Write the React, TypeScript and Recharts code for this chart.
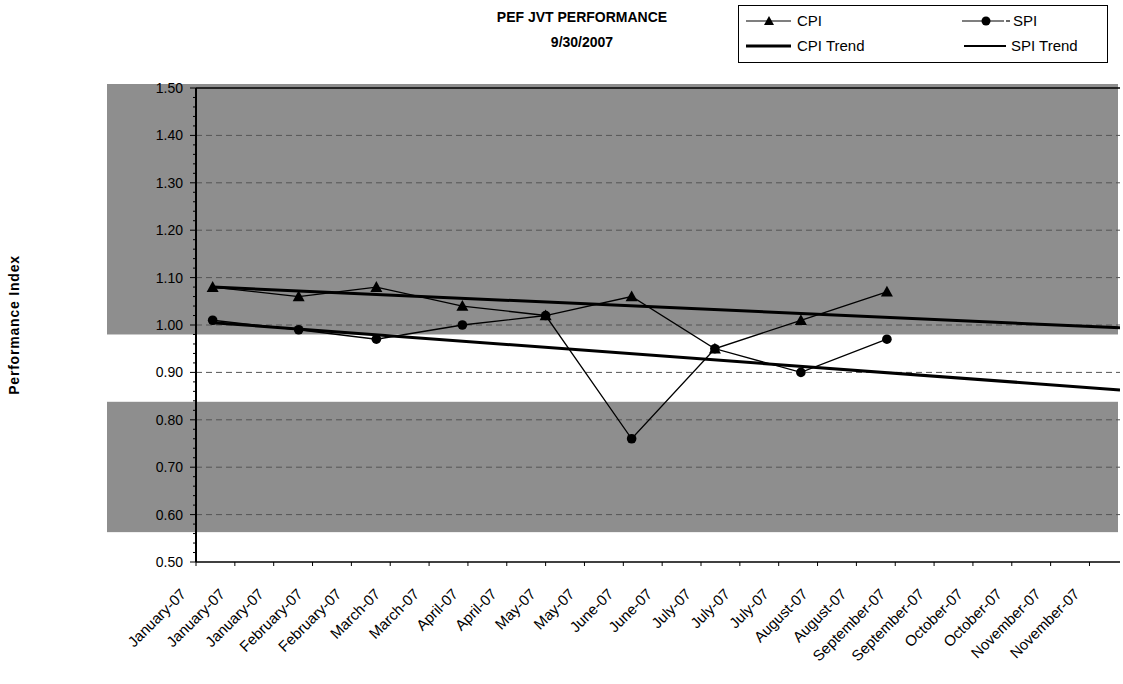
import React from "react";
import {
  ComposedChart,
  Line,
  XAxis,
  YAxis,
  ReferenceArea,
  ReferenceLine,
} from "recharts";

// ---- data (days counted from 1 January 2007) ----
const pointDays = [6, 37, 65, 96, 126, 157, 187, 218, 249];
const cpiValues = [1.08, 1.06, 1.08, 1.04, 1.02, 1.06, 0.95, 1.01, 1.07];
const spiValues = [1.01, 0.99, 0.97, 1.0, 1.02, 0.76, 0.95, 0.9, 0.97];

const trendDays = [6, 333];
const cpiTrendValues = [1.08, 0.994];
const spiTrendValues = [1.005, 0.863];

const xTickDays = [
  0, 14, 28, 42, 56, 70, 84, 98, 112, 126, 140, 154, 168, 182, 196, 210, 224,
  238, 252, 266, 280, 294, 308, 322,
];
const xTickLabels = [
  "January-07", "January-07", "January-07", "February-07", "February-07",
  "March-07", "March-07", "April-07", "April-07", "May-07", "May-07",
  "June-07", "June-07", "July-07", "July-07", "July-07", "August-07",
  "August-07", "September-07", "September-07", "October-07", "October-07",
  "November-07", "November-07",
];

const yTicks = [
  0.5, 0.52, 0.54, 0.56, 0.58, 0.6, 0.62, 0.64, 0.66, 0.68, 0.7, 0.72, 0.74,
  0.76, 0.78, 0.8, 0.82, 0.84, 0.86, 0.88, 0.9, 0.92, 0.94, 0.96, 0.98, 1.0,
  1.02, 1.04, 1.06, 1.08, 1.1, 1.12, 1.14, 1.16, 1.18, 1.2, 1.22, 1.24, 1.26,
  1.28, 1.3, 1.32, 1.34, 1.36, 1.38, 1.4, 1.42, 1.44, 1.46, 1.48, 1.5,
];
const gridValues = [0.6, 0.7, 0.8, 0.9, 1.0, 1.1, 1.2, 1.3, 1.4];

// shaded performance bands [low, high]
const bandUpper = [0.98, 1.5];
const bandLower = [0.563, 0.838];

const cpiData = pointDays.map((d, i) => ({ x: d, y: cpiValues[i] }));
const spiData = pointDays.map((d, i) => ({ x: d, y: spiValues[i] }));
const cpiTrendData = trendDays.map((d, i) => ({ x: d, y: cpiTrendValues[i] }));
const spiTrendData = trendDays.map((d, i) => ({ x: d, y: spiTrendValues[i] }));

const FONT = "'Liberation Sans', Arial, sans-serif";
const BAND = "#8e8e8e";

const Triangle = (props: any) => {
  const { cx, cy } = props;
  if (cx == null || cy == null) return null;
  const s = 6;
  return (
    <polygon
      points={`${cx},${cy - s} ${cx - s},${cy + s * 0.8} ${cx + s},${cy + s * 0.8}`}
      fill="#000"
    />
  );
};

const Circle = (props: any) => {
  const { cx, cy } = props;
  if (cx == null || cy == null) return null;
  return <circle cx={cx} cy={cy} r={4.8} fill="#000" />;
};

const XTick = (props: any) => {
  const { x, y, payload } = props;
  const idx = xTickDays.indexOf(payload.value);
  const label = idx >= 0 ? xTickLabels[idx] : "";
  const ax = x - 9;
  const ay = y + 25;
  return (
    <g>
      <line x1={x} y1={y - 8} x2={x} y2={y - 4} stroke="#000" strokeWidth={1} />
      <text
        x={ax}
        y={ay}
        transform={`rotate(-45 ${ax} ${ay})`}
        textAnchor="end"
        fontSize={15}
        fontFamily={FONT}
        fill="#000"
      >
        {label}
      </text>
    </g>
  );
};

const YTick = (props: any) => {
  const { y, payload } = props;
  const v = payload.value as number;
  const major = Math.abs(v * 10 - Math.round(v * 10)) < 1e-6;
  const axisX = 196;
  return (
    <g>
      <line
        x1={axisX - (major ? 6 : 3)}
        y1={y}
        x2={axisX}
        y2={y}
        stroke="#000"
        strokeWidth={1}
      />
      {major && (
        <text
          x={183}
          y={y}
          dy={5}
          textAnchor="end"
          fontSize={14}
          fontFamily={FONT}
          fill="#000"
        >
          {v.toFixed(2)}
        </text>
      )}
    </g>
  );
};

const bandShape = (props: any) => {
  const { x, y, width, height, extendTop } = props;
  const left = 107;
  const top = extendTop ? y - 4 : y;
  return (
    <rect
      x={left}
      y={top}
      width={x + width - 2 - left}
      height={height + (y - top)}
      fill={BAND}
      stroke="none"
    />
  );
};

const LegendBox = () => (
  <div
    style={{
      position: "absolute",
      left: 738,
      top: 5,
      width: 368,
      height: 56,
      border: "1px solid #000",
      background: "#fff",
    }}
  >
    <svg width={368} height={56} style={{ position: "absolute", left: 0, top: 0 }}>
      {/* CPI */}
      <line x1={7} y1={15} x2={52} y2={15} stroke="#000" strokeWidth={1.2} />
      <polygon points="30,10 25,19 35,19" fill="#000" />
      <text x={58} y={20} fontFamily={FONT} fontSize={15}>CPI</text>
      {/* SPI */}
      <line x1={223} y1={15} x2={265} y2={15} stroke="#000" strokeWidth={1.2} />
      <line x1={267} y1={15} x2={271} y2={15} stroke="#000" strokeWidth={1.2} />
      <circle cx={247} cy={15} r={4.5} fill="#000" />
      <text x={274} y={20} fontFamily={FONT} fontSize={15}>SPI</text>
      {/* CPI Trend */}
      <line x1={7} y1={40} x2={52} y2={40} stroke="#000" strokeWidth={3} />
      <text x={58} y={45} fontFamily={FONT} fontSize={15}>CPI Trend</text>
      {/* SPI Trend */}
      <line x1={225} y1={40} x2={267} y2={40} stroke="#000" strokeWidth={2} />
      <text x={272} y={45} fontFamily={FONT} fontSize={15}>SPI Trend</text>
    </svg>
  </div>
);

export default function App() {
  return (
    <div
      style={{
        position: "absolute",
        left: 0,
        top: 0,
        width: 1123,
        height: 684,
        background: "#fff",
        overflow: "hidden",
      }}
    >
      <div
        style={{
          position: "absolute",
          left: 0,
          width: 1164,
          top: 5,
          textAlign: "center",
          fontFamily: FONT,
          fontWeight: "bold",
          fontSize: 14,
          lineHeight: "25px",
          color: "#000",
        }}
      >
        PEF JVT PERFORMANCE
        <br />
        9/30/2007
      </div>
      <LegendBox />
      <div
        style={{
          position: "absolute",
          left: 14,
          top: 325,
          transform: "translate(-50%, -50%) rotate(-90deg)",
          fontFamily: FONT,
          fontWeight: "bold",
          fontSize: 14,
          letterSpacing: 0.8,
          whiteSpace: "nowrap",
          color: "#000",
        }}
      >
        Performance Index
      </div>
      <div style={{ position: "absolute", left: 0, top: 0 }}>
        <ComposedChart
          width={1123}
          height={684}
          margin={{ top: 88, right: 3, bottom: 0, left: 0 }}
        >
          <XAxis
            type="number"
            dataKey="x"
            domain={[0, 333]}
            ticks={xTickDays}
            interval={0}
            tick={<XTick />}
            tickLine={false}
            axisLine={{ stroke: "#000", strokeWidth: 1.5 }}
            height={122}
            allowDataOverflow
          />
          <YAxis
            type="number"
            dataKey="y"
            domain={[0.5, 1.5]}
            ticks={yTicks}
            interval={0}
            tick={<YTick />}
            tickLine={false}
            axisLine={{ stroke: "#000", strokeWidth: 2 }}
            width={196}
            allowDataOverflow
          />
          <ReferenceArea
            y1={bandUpper[0]}
            y2={bandUpper[1]}
            ifOverflow="visible"
            shape={(p: any) => bandShape({ ...p, extendTop: true })}
          />
          <ReferenceArea
            y1={bandLower[0]}
            y2={bandLower[1]}
            ifOverflow="visible"
            shape={(p: any) => bandShape({ ...p, extendTop: false })}
          />
          {gridValues.map((g) => (
            <ReferenceLine
              key={g}
              y={g}
              stroke="#555"
              strokeWidth={1}
              strokeDasharray="6 4"
            />
          ))}
          <ReferenceLine y={1.5} stroke="#000" strokeWidth={1.5} />
          <Line
            data={cpiTrendData}
            dataKey="y"
            stroke="#000"
            strokeWidth={3}
            dot={false}
            activeDot={false}
            isAnimationActive={false}
            legendType="none"
          />
          <Line
            data={spiTrendData}
            dataKey="y"
            stroke="#000"
            strokeWidth={3}
            dot={false}
            activeDot={false}
            isAnimationActive={false}
            legendType="none"
          />
          <Line
            data={cpiData}
            dataKey="y"
            stroke="#000"
            strokeWidth={1.3}
            dot={<Triangle />}
            activeDot={false}
            isAnimationActive={false}
          />
          <Line
            data={spiData}
            dataKey="y"
            stroke="#000"
            strokeWidth={1.3}
            dot={<Circle />}
            activeDot={false}
            isAnimationActive={false}
          />
        </ComposedChart>
      </div>
    </div>
  );
}
